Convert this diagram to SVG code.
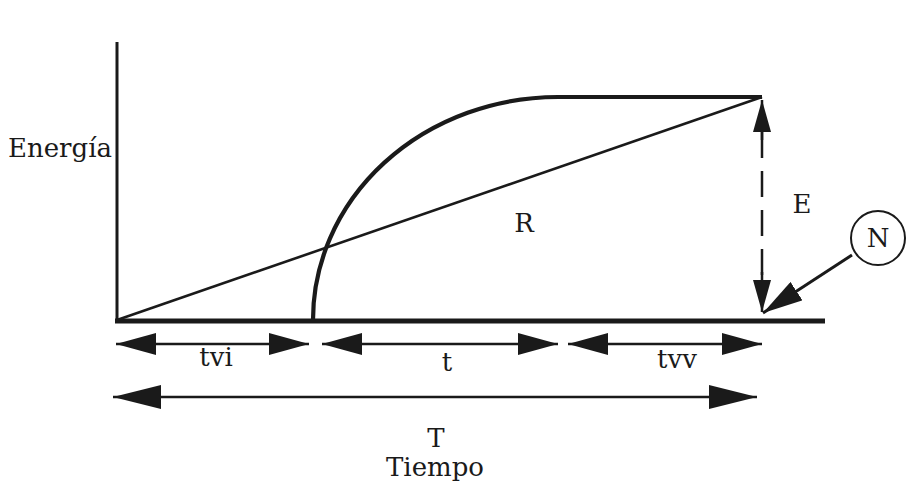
<svg xmlns="http://www.w3.org/2000/svg" width="906" height="485" viewBox="0 0 906 485">
  <style>
    text { font-family: "DejaVu Serif", "Liberation Serif", serif; font-size: 26px; fill: #1a1a1a; }
    .c { text-anchor: middle; }
    .ln { stroke: #1a1a1a; fill: none; }
  </style>
  <defs>
    <marker id="ah" viewBox="0 0 40 22" markerWidth="40" markerHeight="22" refX="40" refY="11" markerUnits="userSpaceOnUse" orient="auto-start-reverse">
      <path d="M0,0 L40,11 L0,22 z" fill="#1a1a1a"/>
    </marker>
    <marker id="ahL" viewBox="0 0 48 24" markerWidth="48" markerHeight="24" refX="48" refY="12" markerUnits="userSpaceOnUse" orient="auto-start-reverse">
      <path d="M0,0 L48,12 L0,24 z" fill="#1a1a1a"/>
    </marker>
    <marker id="ahS" viewBox="0 0 32 18" markerWidth="32" markerHeight="18" refX="32" refY="9" markerUnits="userSpaceOnUse" orient="auto">
      <path d="M0,0 L32,9 L0,18 z" fill="#1a1a1a"/>
    </marker>
  </defs>
  <rect width="906" height="485" fill="#ffffff"/>

  <g id="axes">
    <line class="ln" x1="117" y1="42" x2="117" y2="321" stroke-width="3"/>
    <line class="ln" x1="115" y1="321" x2="825" y2="321" stroke-width="5"/>
  </g>

  <g id="curves">
    <line class="ln" x1="117" y1="320" x2="762" y2="97" stroke-width="2.6"/>
    <path class="ln" d="M313,321 A245,223 0 0 1 558,97 L762,97" stroke-width="4.2"/>
  </g>

  <g id="connectors">
    <line class="ln" x1="762" y1="132" x2="762" y2="280" stroke-width="2.5" stroke-dasharray="26 13"/>
    <path class="ln" d="M762,140 L762,100" stroke-width="2.5" marker-end="url(#ahS)"/>
    <path class="ln" d="M762,272 L762,312" stroke-width="2.5" marker-end="url(#ahS)"/>
    <line class="ln" x1="852" y1="255" x2="763" y2="313" stroke-width="3" marker-end="url(#ah)"/>
    <line class="ln" x1="116" y1="344" x2="309" y2="344" stroke-width="2.5" marker-start="url(#ah)" marker-end="url(#ah)"/>
    <line class="ln" x1="322" y1="344" x2="558" y2="344" stroke-width="2.5" marker-start="url(#ah)" marker-end="url(#ah)"/>
    <line class="ln" x1="568" y1="344" x2="762" y2="344" stroke-width="2.5" marker-start="url(#ah)" marker-end="url(#ah)"/>
    <line class="ln" x1="113" y1="397" x2="757" y2="397" stroke-width="2.5" marker-start="url(#ahL)" marker-end="url(#ahL)"/>
  </g>

  <g id="node-N">
    <circle cx="878" cy="238" r="27" fill="#ffffff" stroke="#1a1a1a" stroke-width="2"/>
    <text class="c" x="878" y="247">N</text>
  </g>

  <g id="labels">
    <text x="8" y="157">Energía</text>
    <text class="c" x="524" y="232">R</text>
    <text class="c" x="802" y="213">E</text>
    <text class="c" x="216" y="366">tvi</text>
    <text class="c" x="447" y="371">t</text>
    <text class="c" x="677" y="368">tvv</text>
    <text class="c" x="436" y="447">T</text>
    <text class="c" x="435" y="476">Tiempo</text>
  </g>
</svg>
